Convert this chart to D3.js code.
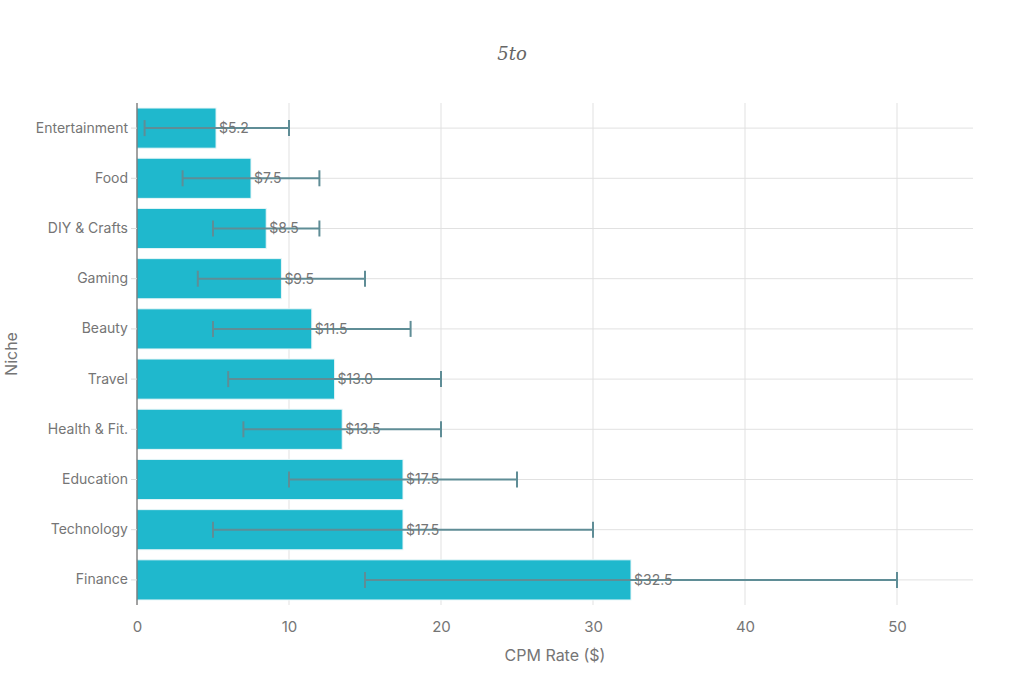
<!DOCTYPE html>
<html>
<head>
<meta charset="utf-8">
<script src="https://cdn.jsdelivr.net/npm/d3@7"></script>
<style>
  body { margin: 0; background: #fff; }
  svg { font-family: Inter, "Liberation Sans", sans-serif; }
</style>
</head>
<body>
<svg id="chart" width="1024" height="683"></svg>
<script>
// --- Data (top to bottom)
const niches = ["Entertainment", "Food", "DIY & Crafts", "Gaming", "Beauty", "Travel", "Health & Fit.", "Education", "Technology", "Finance"]
const cpm = [5.2, 7.5, 8.5, 9.5, 11.5, 13.0, 13.5, 17.5, 17.5, 32.5]
const cpmLow = [0.5, 3, 5, 4, 5, 6, 7, 10, 5, 15]
const cpmHigh = [10, 12, 12, 15, 18, 20, 20, 25, 30, 50]
const xTicks = [0, 10, 20, 30, 40, 50]

const svg = d3.select("#chart")
const margin = { left: 137, right: 51, top: 103, bottom: 78 }
const W = 1024, H = 683
const textCol = "#757575"

const x = d3.scaleLinear().domain([0, 55]).range([margin.left, W - margin.right])
const y = d3.scaleBand().domain(niches).range([margin.top, H - margin.bottom]).paddingInner(0.2).paddingOuter(0.1)

const rows = niches.map((n, i) => ({ n, v: cpm[i], lo: cpmLow[i], hi: cpmHigh[i] }))

// grid
svg.append("g").selectAll("line").data(xTicks.slice(1)).join("line")
    .attr("x1", d => x(d)).attr("x2", d => x(d))
    .attr("y1", margin.top).attr("y2", H - margin.bottom)
    .attr("stroke", "#e1e1e1")
svg.append("g").selectAll("line").data(niches).join("line")
    .attr("x1", margin.left).attr("x2", W - margin.right)
    .attr("y1", d => y(d) + y.bandwidth() / 2).attr("y2", d => y(d) + y.bandwidth() / 2)
    .attr("stroke", "#e1e1e1")

// bars
svg.append("g").selectAll("rect").data(rows).join("rect")
    .attr("x", x(0)).attr("y", d => y(d.n))
    .attr("width", d => x(d.v) - x(0)).attr("height", y.bandwidth())
    .attr("fill", "#1FB8CD").attr("stroke", "#e8f6f8").attr("stroke-width", 1)

// error bars
const err = svg.append("g").attr("stroke", "#5f8d96").attr("stroke-width", 2)
rows.forEach(d => {
    const cy = y(d.n) + y.bandwidth() / 2
    err.append("line").attr("x1", x(d.lo)).attr("x2", x(d.hi)).attr("y1", cy).attr("y2", cy)
    err.append("line").attr("x1", x(d.lo)).attr("x2", x(d.lo)).attr("y1", cy - 8).attr("y2", cy + 8)
    err.append("line").attr("x1", x(d.hi)).attr("x2", x(d.hi)).attr("y1", cy - 8).attr("y2", cy + 8)
})

// value labels
svg.append("g").selectAll("text").data(rows).join("text")
    .attr("x", d => x(d.v) + 3)
    .attr("y", d => y(d.n) + y.bandwidth() / 2)
    .attr("dy", "0.35em")
    .attr("fill", textCol).attr("font-size", 14)
    .text(d => "$" + d.v.toFixed(1))

// x axis
const xAxis = svg.append("g").attr("transform", `translate(0,${H - margin.bottom})`)
    .call(d3.axisBottom(x).tickValues(xTicks).tickSize(0).tickPadding(16))
xAxis.select(".domain").remove()
xAxis.selectAll("text").attr("fill", textCol).attr("font-size", 15).attr("font-family", "Inter, sans-serif")

// y axis
const yAxis = svg.append("g").attr("transform", `translate(${margin.left},0)`)
    .call(d3.axisLeft(y).tickSize(6).tickPadding(3))
yAxis.select(".domain").attr("stroke", "#444").attr("d", `M0,${margin.top}V${H - margin.bottom}`)
yAxis.selectAll(".tick line").attr("stroke", "#dcdcdc")
yAxis.selectAll("text").attr("fill", textCol).attr("font-size", 14).attr("font-family", "Inter, sans-serif")

// titles
svg.append("text").attr("x", x(27.5)).attr("y", 661).attr("text-anchor", "middle")
    .attr("fill", textCol).attr("font-size", 16).text("CPM Rate ($)")
svg.append("text").attr("transform", `translate(17,${(margin.top + H - margin.bottom) / 2}) rotate(-90)`)
    .attr("text-anchor", "middle").attr("fill", textCol).attr("font-size", 16).text("Niche")
svg.append("text").attr("x", 512).attr("y", 60).attr("text-anchor", "middle")
    .attr("fill", "#666").attr("font-size", 18).attr("font-style", "italic")
    .attr("font-family", "'DejaVu Serif', 'Liberation Serif', serif").text("5to")
</script>
</body>
</html>
